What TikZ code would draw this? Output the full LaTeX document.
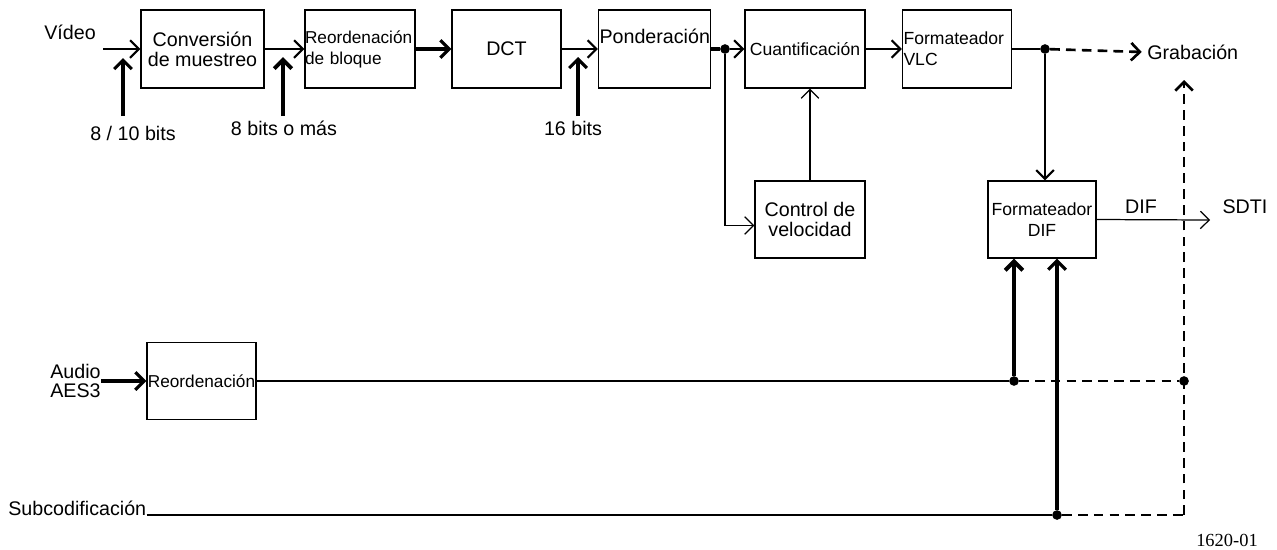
\documentclass[tikz,border=0pt]{standalone}
\usepackage{fontspec}
\setmainfont{Liberation Sans}
\newfontfamily\figfont{Liberation Serif}
\usetikzlibrary{arrows.meta}
\tikzset{blk/.style = {draw, line width=0.8pt, minimum height=1.56cm, inner sep=0.5pt,
    font=\fontsize{11.2}{11.5}\selectfont}}
\tikzset{blks/.style = {blk, font=\fontsize{10}{12}\selectfont}}
\tikzset{lbl/.style = {inner sep=0, font=\fontsize{11.2}{11}\selectfont}}
\tikzset{main/.style = {line width=1.2pt}, thin/.style = {line width=0.7pt},
  bold/.style = {line width=1.8pt}, xbold/.style = {line width=2.3pt},
  dashln/.style = {line width=1.5pt, dash pattern=on 5.5pt off 3.5pt}}
\tikzset{circ/.style = {fill, circle, inner sep = 0, minimum size = 5.5pt}}
\tikzset{>={Straight Barb[length=5pt, width=10pt]}}

\begin{document}
\begin{tikzpicture}[x=0.02cm, y=-0.02cm]
      \useasboundingbox (0,0) rectangle (1277,549);
      % video chain
      \node [blk, minimum width=2.46cm, align=center] (conv) at (202.5,49) {Conversión\\de muestreo};
      \node [blks, inner sep=0, font=\fontsize{9.8}{12}\selectfont, minimum width=2.2cm, text width=2.2cm, align=left] (reorbloque) at (360,49) {Reordenación\\de bloque};
      \node [blk, minimum width=2.18cm] (dct) at (506.5,49) {DCT};
      \node [blk, minimum width=2.22cm, text width=2.2cm, align=left] (pond) at (654.5,49) {Ponderación\\\strut};
      \node [blks, minimum width=2.4cm] (cuant) at (805,49) {Cuantificación};
      \node [blks, minimum width=2.16cm, text width=2.14cm, align=left] (vlc) at (957,49) {Formateador\\VLC};
      \node [blk, minimum width=2.2cm, minimum height=1.54cm, align=center] (ctrl) at (810,219.5) {Control de\\velocidad};
      \node [blks, minimum width=2.16cm, minimum height=1.54cm, align=center] (dif) at (1042,219.5) {Formateador\\DIF};
      \node [blks, inner sep=0, font=\fontsize{9.8}{12}\selectfont, minimum width=2.18cm, minimum height=1.54cm] (reoraudio) at (201.5,381) {Reordenación};
      % labels
      \node [lbl] (video) at (70,32) {Vídeo};
      \node [lbl] (bitsA) at (133,133) {8 / 10 bits};
      \node [lbl] (bitsB) at (284,128) {8 bits o más};
      \node [lbl] (bitsC) at (573,128) {16 bits};
      \node [lbl, anchor=west] (grab) at (1147,52) {Grabación};
      \node [lbl] (diflbl) at (1141,207) {DIF};
      \node [lbl] (sdti) at (1245,207) {SDTI};
      \node [lbl, anchor=east, align=left, font=\fontsize{11.2}{10.8}\selectfont] (audio) at (101,381) {Audio\\AES3};
      \node [lbl, anchor=base west] (subcod) at (8,515) {Subcodificación};
      \node [inner sep=0, font=\figfont\fontsize{10.5}{11}\selectfont] (fig) at (1227,540) {1620-01};
      % points
      \coordinate (vin) at (103,49);
      \coordinate (ba0) at (123,116);
      \coordinate (ba1) at (123,58);
      \coordinate (bb0) at (283,116);
      \coordinate (bb1) at (283,57);
      \coordinate (bc0) at (578,116);
      \coordinate (bc1) at (578,57);
      \coordinate (sdtiin) at (1210,220);
      \coordinate (gup) at (1184,80);
      \coordinate (gcor) at (1184,515);
      \node [circ] (dotP) at (725,49) {};
      \node [circ] (dotV) at (1045,49) {};
      \node [circ] (dotA) at (1014,381) {};
      \node [circ] (dotR) at (1184,381) {};
      \node [circ] (dotS) at (1057,515) {};
      % connectors
      \draw [main, ->] (vin) -- (conv);
      \draw [main, ->] (conv) -- (reorbloque);
      \draw [bold, ->] (reorbloque) -- (dct);
      \draw [main, ->] (dct) -- (pond);
      \draw [bold] (pond) -- (dotP);
      \draw [main, ->] (dotP) -- (cuant);
      \draw [main, ->] (cuant) -- (vlc);
      \draw [thin] (vlc) -- (dotV);
      \draw [dashln, ->] (dotV) -- ([xshift=-3pt]grab.west);
      \draw [main, ->] (dotV) -- (dotV |- dif.north);
      \draw [thin, ->] (dotP) |- ([yshift=-3.4pt]ctrl.west);
      \draw [thin, ->] (ctrl.north) -- (ctrl.north |- cuant.south);
      \draw [thin, ->] (dif.east) -- (sdtiin);
      \draw [bold, ->] (ba0) -- (ba1);
      \draw [xbold, ->] (bb0) -- (bb1);
      \draw [bold, ->] (bc0) -- (bc1);
      \draw [bold, ->] (audio.east) -- (reoraudio);
      \draw [thin] (reoraudio) -- (dotA);
      \draw [thin] (subcod.base east) -- (dotS);
      \draw [xbold, ->] (dotA) -- (dotA |- dif.south);
      \draw [bold, ->] (dotS) -- (dotS |- dif.south);
      \draw [dashln] (dotA) -- (dotR);
      \draw [dashln] (dotS) -- (gcor);
      \draw [dashln, ->] (gcor) -- (gup);
\end{tikzpicture}
\end{document}
